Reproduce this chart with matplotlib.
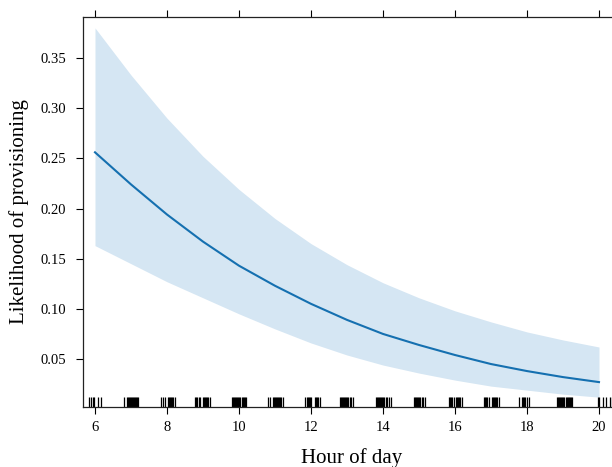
import matplotlib
matplotlib.use("Agg")
import matplotlib.pyplot as plt

# ---- data ----
hours = [6, 7, 8, 9, 10, 11, 12, 13, 14, 15, 16, 17, 18, 19, 20]
fit = [0.256, 0.224, 0.194, 0.167, 0.143, 0.123, 0.105, 0.089, 0.075,
       0.064, 0.054, 0.045, 0.038, 0.032, 0.027]
upper = [0.380, 0.333, 0.290, 0.252, 0.219, 0.190, 0.165, 0.144, 0.126,
         0.111, 0.098, 0.087, 0.077, 0.069, 0.062]
lower = [0.163, 0.145, 0.127, 0.111, 0.095, 0.080, 0.066, 0.054, 0.044,
         0.036, 0.029, 0.023, 0.019, 0.015, 0.012]

rug_hours = [
    5.83, 5.89, 5.94, 5.98, 6.08, 6.17,
    6.81, 6.88, 6.91, 6.94, 6.97, 7.00, 7.03, 7.06, 7.09, 7.12, 7.15, 7.18, 7.20,
    7.83, 7.89, 7.94, 8.03, 8.06, 8.09, 8.12, 8.15, 8.18, 8.22,
    8.78, 8.81, 8.84, 8.88, 8.92, 9.00, 9.03, 9.06, 9.09, 9.12, 9.15, 9.19,
    9.80, 9.83, 9.86, 9.89, 9.92, 9.95, 9.98, 10.01, 10.04, 10.07, 10.10, 10.13, 10.16, 10.20,
    10.80, 10.86, 10.94, 10.97, 11.00, 11.03, 11.06, 11.09, 11.12, 11.15, 11.18, 11.22,
    11.83, 11.88, 11.92, 11.95, 11.98, 12.00, 12.11, 12.14, 12.17, 12.20, 12.25,
    12.80, 12.83, 12.86, 12.89, 12.92, 12.95, 12.98, 13.01, 13.04, 13.08, 13.12, 13.18,
    13.80, 13.83, 13.86, 13.89, 13.92, 13.95, 13.98, 14.01, 14.04, 14.07, 14.10, 14.17, 14.22,
    14.86, 14.89, 14.92, 14.95, 14.98, 15.01, 15.04, 15.07, 15.10, 15.17,
    15.83, 15.86, 15.89, 15.92, 15.97, 16.03, 16.06, 16.09, 16.12, 16.15, 16.20,
    16.80, 16.83, 16.86, 16.90, 16.94, 17.03, 17.06, 17.09, 17.12, 17.15, 17.18, 17.22,
    17.78, 17.85, 17.89, 17.92, 17.95, 18.00, 18.06,
    18.83, 18.86, 18.89, 18.92, 18.95, 18.98, 19.01, 19.04, 19.07, 19.10, 19.13,
    19.16, 19.19, 19.22, 19.25,
    19.97, 20.00, 20.10, 20.20, 20.30, 20.36,
]

x_ticks = [6, 8, 10, 12, 14, 16, 18, 20]
y_ticks = [0.05, 0.10, 0.15, 0.20, 0.25, 0.30, 0.35]
y_tick_labels = ["0.05", "0.10", "0.15", "0.20", "0.25", "0.30", "0.35"]

x_label = "Hour of day"
y_label = "Likelihood of provisioning"

# ---- figure ----
plt.rcParams['font.family'] = ['Liberation Serif', 'DejaVu Serif']
W, H = 612, 467
fig = plt.figure(figsize=(W / 100, H / 100), dpi=100)
left, right, top, bottom = 83, 620, 17, 407
ax = fig.add_axes([left / W, (H - bottom) / H, (right - left) / W, (bottom - top) / H])

line_col = '#1570b0'
band_col = '#d5e6f3'

ax.fill_between(hours, lower, upper, color=band_col, linewidth=0)
ax.plot(hours, fit, color=line_col, linewidth=1.5)

ax.vlines(rug_hours, 0, 0.026, transform=ax.get_xaxis_transform(),
          color='black', linewidth=0.9)

ax.set_xlim(6 - 12 / 36, 6 + (right - 95) / 36)
ax.set_ylim(0.05 - (bottom - 359) / 1004, 0.35 + (58 - top) / 1004)

ax.set_xticks(x_ticks)
ax.set_xticklabels([str(t) for t in x_ticks])
ax.set_yticks(y_ticks)
ax.set_yticklabels(y_tick_labels)

ax.tick_params(axis='x', which='both', top=True, bottom=True, labeltop=False,
               direction='out', length=5, width=0.8, labelsize=10.5, pad=5)
ax.tick_params(axis='y', which='both', left=True, right=False,
               direction='out', length=5, width=0.8, labelsize=10.5, pad=7)

for side in ['left', 'bottom', 'top']:
    ax.spines[side].set_linewidth(0.9)
    ax.spines[side].set_color('#222222')
ax.spines['right'].set_visible(False)

ax.set_xlabel(x_label, fontsize=15, labelpad=10)
ax.set_ylabel(y_label, fontsize=15, labelpad=8)

fig.savefig("out.png", dpi=100)
